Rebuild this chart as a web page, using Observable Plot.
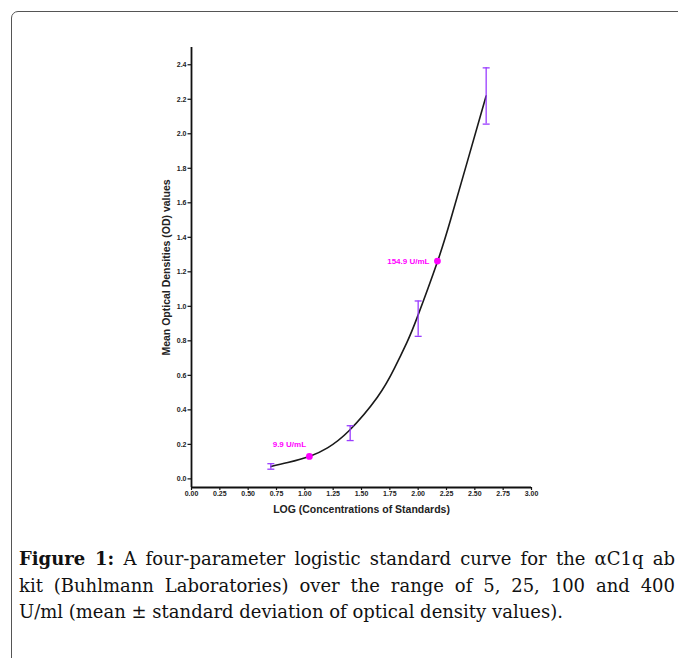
<!DOCTYPE html>
<html>
<head>
<meta charset="utf-8">
<script src="https://cdn.jsdelivr.net/npm/d3@7"></script>
<script src="https://cdn.jsdelivr.net/npm/@observablehq/plot@0.6"></script>
<style>
  html, body { margin: 0; padding: 0; background: #fff; overflow: hidden; width: 678px; height: 658px; }
  #frame { position: absolute; left: 11px; top: 11px; width: 720px; height: 720px;
           border: 1.5px solid #555; border-top-left-radius: 7px; box-sizing: border-box; }
  #chart { position: absolute; left: 0; top: 0; }
  #caption { position: absolute; left: 19px; top: 546px; width: 656px;
             font-family: "DejaVu Serif", "Liberation Serif", serif; font-size: 18px;
             line-height: 26.5px; color: #111; }
  #caption .j { text-align: justify; text-align-last: justify; }
</style>
</head>
<body>
<div id="frame"></div>
<div id="chart"></div>
<div id="caption">
  <div class="j"><b>Figure 1:</b> A four-parameter logistic standard curve for the αC1q ab</div>
  <div class="j">kit (Buhlmann Laboratories) over the range of 5, 25, 100 and 400</div>
  <div>U/ml (mean ± standard deviation of optical density values).</div>
</div>
<script>
// Standards (log concentration), mean OD and ± SD limits
const stdLog  = [0.70, 1.40, 2.00, 2.60];
const stdMean = [0.07, 0.265, 0.93, 2.22];
const stdLow  = [0.056, 0.222, 0.826, 2.056];
const stdHigh = [0.088, 0.308, 1.031, 2.382];

// Fitted four-parameter logistic curve
const curveX = [0.70, 0.85, 1.04, 1.20, 1.39, 1.64, 1.79, 1.90, 1.99, 2.17, 2.29, 2.43, 2.60];
const curveY = [0.072, 0.095, 0.13, 0.18, 0.279, 0.473, 0.64, 0.79, 0.933, 1.258, 1.51, 1.83, 2.22];

// Interpolated sample markers
const markLabel = ["9.9 U/mL", "154.9 U/mL"];
const markX = [1.04, 2.17];
const markY = [0.13, 1.262];

// Tick values
const xTicks = [0, 0.25, 0.5, 0.75, 1, 1.25, 1.5, 1.75, 2, 2.25, 2.5, 2.75, 3];
const yTicks = [0, 0.2, 0.4, 0.6, 0.8, 1.0, 1.2, 1.4, 1.6, 1.8, 2.0, 2.2, 2.4];

const standards = stdLog.map((x, i) => ({x, mean: stdMean[i], lo: stdLow[i], hi: stdHigh[i]}));
const curve = curveX.map((x, i) => ({x, y: curveY[i]}));
const marks = markLabel.map((label, i) => ({label, x: markX[i], y: markY[i]}));

const purple = "#9a3dff";
const magenta = "#ff00ff";
const sans = "Liberation Sans, Arial, sans-serif";
const capSymbol = { draw(ctx, size) { const w = Math.sqrt(size / Math.PI); ctx.moveTo(-w, 0); ctx.lineTo(w, 0); } };

const yMin = -0.05;
const chart = Plot.plot({
  width: 678,
  height: 530,
  marginLeft: 191,
  marginRight: 147,
  marginTop: 47,
  marginBottom: 43,
  style: { fontFamily: sans, background: "transparent", overflow: "visible" },
  x: { domain: [0, 3] },
  y: { domain: [yMin, 2.5] },
  marks: [
    Plot.axisX({ ticks: xTicks, tickFormat: d => d.toFixed(2), tickSize: 3, tickPadding: 0.5,
                 fontSize: 7, fontWeight: "bold", fill: "#222", stroke: "#111", strokeWidth: 1.2, label: null }),
    Plot.axisY({ ticks: yTicks, tickFormat: d => d.toFixed(1), tickSize: 3.5, tickPadding: 1.5,
                 fontSize: 7, fontWeight: "bold", fill: "#222", stroke: "#111", strokeWidth: 1.2, label: null }),
    Plot.ruleY([yMin], { stroke: "#111", strokeWidth: 1.8 }),
    Plot.ruleX([0], { stroke: "#111", strokeWidth: 1.8 }),
    Plot.text(["LOG (Concentrations of Standards)"], { frameAnchor: "bottom", dy: 22, lineAnchor: "middle",
                 textAnchor: "middle", fontSize: 10.5, fontWeight: "bold", fill: "#222" }),
    Plot.text(["Mean Optical Densities (OD) values"], { frameAnchor: "left", dx: -25, rotate: -90,
                 textAnchor: "middle", lineAnchor: "middle", fontSize: 10.5, fontWeight: "bold", fill: "#222" }),
    Plot.line(curve, { x: "x", y: "y", curve: "natural", stroke: "#1a1a1a", strokeWidth: 1.6 }),
    Plot.ruleX(standards, { x: "x", y1: "lo", y2: "hi", stroke: purple, strokeWidth: 1.3 }),
    Plot.dot(standards, { x: "x", y: "lo", symbol: capSymbol, r: 3.5, stroke: purple, strokeWidth: 1.3, fill: "none" }),
    Plot.dot(standards, { x: "x", y: "hi", symbol: capSymbol, r: 3.5, stroke: purple, strokeWidth: 1.3, fill: "none" }),
    Plot.dot(marks, { x: "x", y: "y", r: 3.4, fill: magenta, stroke: "none" }),
    Plot.text(marks.slice(0, 1), { x: "x", y: "y", text: "label", dx: -20, dy: -12.5, fontSize: 8,
                 fontWeight: "bold", fill: magenta }),
    Plot.text(marks.slice(1), { x: "x", y: "y", text: "label", dx: -8, textAnchor: "end", fontSize: 8,
                 fontWeight: "bold", fill: magenta })
  ]
});
document.getElementById("chart").appendChild(chart);
</script>
</body>
</html>
